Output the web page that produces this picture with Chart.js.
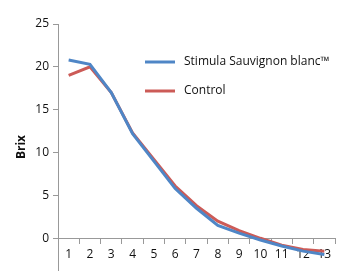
<!DOCTYPE html>
<html>
<head>
<meta charset="utf-8">
<script src="https://cdn.jsdelivr.net/npm/chart.js@4"></script>
<style>
  html, body { margin: 0; padding: 0; background: #fff; }
  #wrap { width: 349px; height: 275px; position: relative; }
</style>
</head>
<body>
<div id="wrap"><canvas id="myChart"></canvas></div>
<script>
// weeks / sample numbers
const labels = ['1','2','3','4','5','6','7','8','9','10','11','12','13'];
const stimula = [20.8, 20.3, 17.0, 12.2, 9.0, 5.8, 3.5, 1.5, 0.6, -0.2, -0.9, -1.5, -1.9];
const control = [19.0, 20.0, 17.0, 12.3, 9.2, 6.1, 3.8, 2.0, 0.9, 0.0, -0.8, -1.3, -1.5];
const yTicks = [0, 5, 10, 15, 20, 25];

const font = "'Open Sans', 'Liberation Sans', sans-serif";

// legend drawn inside the plot area, like the original
const innerLegend = {
    id: 'innerLegend',
    afterDraw(chart) {
        const ctx = chart.ctx;
        ctx.save();
        ctx.font = '12px ' + font;
        ctx.textBaseline = 'middle';
        chart.data.datasets.forEach((ds, i) => {
            let y = 62 + i * 29;
            ctx.strokeStyle = ds.borderColor;
            ctx.lineWidth = 3;
            ctx.beginPath();
            ctx.moveTo(145, y);
            ctx.lineTo(175, y);
            ctx.stroke();
            ctx.fillStyle = '#111';
            ctx.fillText(ds.label, 184, y);
        });
        ctx.restore();
    }
};

var ctx = document.getElementById('myChart');
var myChart = new Chart(ctx, {
    type: 'line',
    data: {
        labels: labels,
        datasets: [{
            label: 'Stimula Sauvignon blanc™',
            data: stimula,
            borderColor: '#4f86c6',
            borderWidth: 3,
            pointRadius: 0,
            tension: 0
        }, {
            label: 'Control',
            data: control,
            borderColor: '#cc5b57',
            borderWidth: 3,
            pointRadius: 0,
            tension: 0
        }]
    },
    options: {
        responsive: true,
        maintainAspectRatio: false,
        animation: false,
        layout: { padding: { top: 24, right: 14, bottom: 5, left: 14 } },
        plugins: { legend: { display: false }, tooltip: { enabled: false } },
        scales: {
            x: {
                position: { y: 0 },
                offset: true,
                afterFit: s => { s.height = 0; s.paddingLeft = 0; s.paddingRight = 0; },
                grid: { display: true, drawOnChartArea: false, offset: true, tickLength: 5, color: '#999' },
                border: { color: '#999' },
                ticks: { color: '#111', font: { family: font, size: 12 }, padding: 4, maxRotation: 0, autoSkip: false }
            },
            y: {
                min: -3.7,
                max: 25,
                afterFit: s => { s.width = 44; s.paddingTop = 0; s.paddingBottom = 0; },
                afterBuildTicks: s => { s.ticks = yTicks.map(v => ({ value: v })); },
                grid: { display: true, drawOnChartArea: false, tickLength: 5, color: '#999' },
                border: { color: '#999' },
                ticks: { color: '#111', font: { family: font, size: 12 }, padding: 4 },
                title: { display: true, text: 'Brix', color: '#111', font: { family: font, size: 12, weight: 'bold' }, padding: 0 }
            }
        }
    },
    plugins: [innerLegend]
});
</script>
</body>
</html>
